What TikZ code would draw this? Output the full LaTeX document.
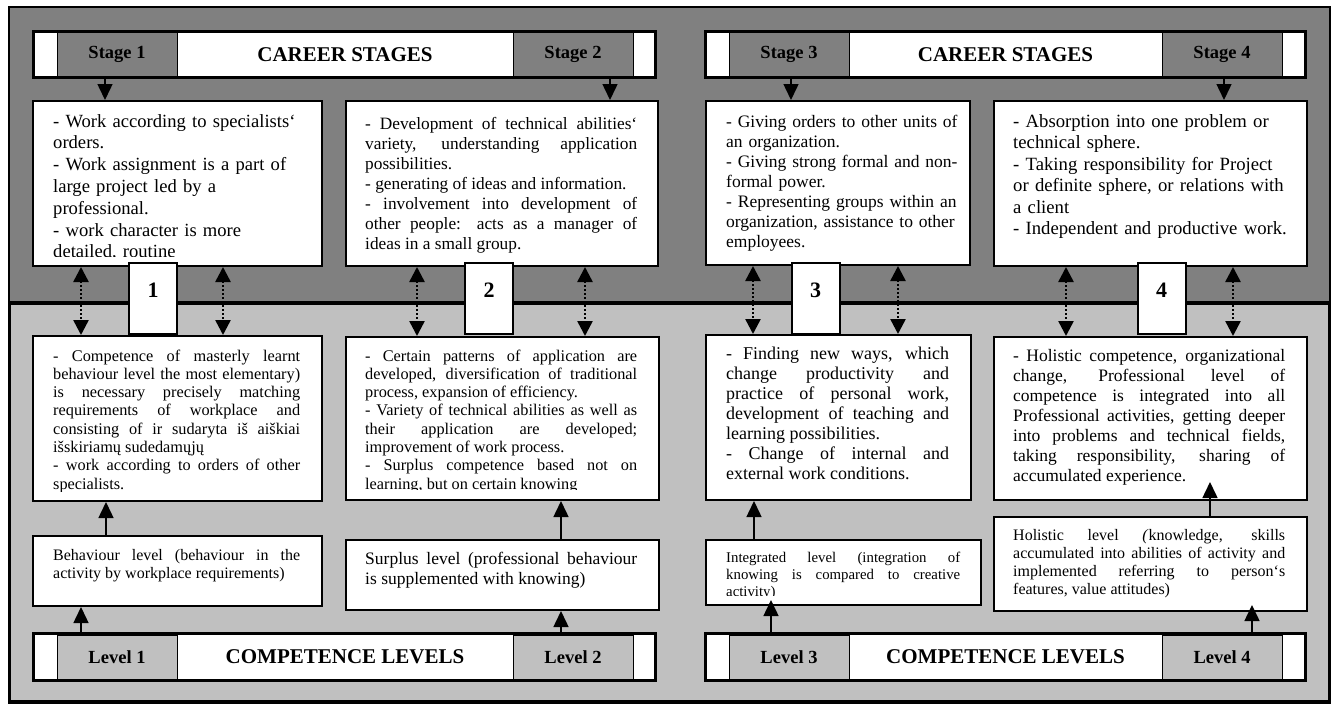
\documentclass[tikz,border=0pt]{standalone}
\usepackage{fontspec}
\setmainfont{Liberation Serif}
\usetikzlibrary{arrows.meta}
\definecolor{darkbg}{RGB}{128,128,128}
\definecolor{lightbg}{RGB}{192,192,192}
\hyphenpenalty=10000

\begin{document}
\begin{tikzpicture}[x=1pt,y=-1pt,
  txtbox/.style={draw, fill=white, line width=2pt, anchor=north west, inner sep=0},
  txt/.style={anchor=base west, inner sep=0, align=justify},
  cell/.style={draw, line width=1pt, minimum width=120pt, minimum height=44pt, inner sep=0, font=\fontsize{18.5}{20}\selectfont\bfseries},
  bar/.style={draw, line width=3pt, fill=white, minimum width=#1, minimum height=46.5pt, inner sep=0},
  bartitle/.style={font=\fontsize{21}{24}\selectfont\bfseries},
  numbox/.style={draw, fill=white, line width=2pt, minimum width=48pt, text height=34pt, text depth=37pt, inner sep=0, font=\fontsize{22}{24}\selectfont\bfseries},
  arr/.style={-{Triangle[width=15pt,length=16pt]}, line width=1.5pt},
  dotarr/.style={{Triangle[width=15pt,length=15pt]}-{Triangle[width=15pt,length=15pt]}, line width=2.5pt, dash pattern=on 2pt off 2pt}]
\path[use as bounding box] (0,0) rectangle (1336,704);
% two backgrounds
\draw[fill=darkbg, line width=2pt] (9,7) rectangle (1329.5,303);
\draw[fill=lightbg, line width=3.5pt] (9.5,303) rectangle (1329.5,702);

% career stages bars
\node[bar=622pt] (hL) at (344.5,54.25) {};
\node[cell, fill=darkbg] (s1) at (117,54.25) {Stage 1};
\node[cell, fill=darkbg] (s2) at (573,54.25) {Stage 2};
\node[bartitle] (tL) at (345,54.25) {CAREER STAGES};
\node[bar=600pt] (hR) at (1005.5,54.25) {};
\node[cell, fill=darkbg] (s3) at (789,54.25) {Stage 3};
\node[cell, fill=darkbg] (s4) at (1222,54.25) {Stage 4};
\node[bartitle] (tR) at (1005.5,54.25) {CAREER STAGES};

% competence levels bars
\node[bar=622pt] (lbL) at (344.5,657) {};
\node[cell, fill=lightbg] (l1) at (117,657) {Level 1};
\node[cell, fill=lightbg] (l2) at (573,657) {Level 2};
\node[bartitle] (ctL) at (345,657) {COMPETENCE LEVELS};
\node[bar=600pt] (lbR) at (1005.5,657) {};
\node[cell, fill=lightbg] (l3) at (789,657) {Level 3};
\node[cell, fill=lightbg] (l4) at (1222,657) {Level 4};
\node[bartitle] (ctR) at (1005.5,657) {COMPETENCE LEVELS};

% stage boxes
\node[txtbox, minimum width=289pt, minimum height=165pt] (b1) at (32,100) {};
\begin{scope}
\clip ([yshift=11pt]b1.south west) rectangle (b1.north east);
\node[txt, text width=260pt, align=left, font=\fontsize{18.6}{21.8}\selectfont] (t1) at ([xshift=21pt,yshift=-27pt]b1.north west)
  {- Work according to specialists‘\\ orders.\\ - Work assignment is a part of\\ large project led by a\\ professional.\\ - work character is more\\ detailed, routine};
\end{scope}
\node[txtbox, minimum width=312pt, minimum height=165pt] (b2) at (345,100) {};
\node[txt, text width=272pt, font=\fontsize{17.3}{20}\selectfont] (t2) at ([xshift=20pt,yshift=-29pt]b2.north west)
  {- Development of technical abilities‘\linebreak variety, understanding application\linebreak possibilities.\\ - generating of ideas and information.\\ - involvement into development of\linebreak other people: acts as a manager of\linebreak ideas in a small group.};
\node[txtbox, minimum width=264pt, minimum height=164pt] (b3) at (705,100) {};
\node[txt, text width=235pt, align=left, font=\fontsize{17.5}{20}\selectfont] (t3) at ([xshift=21pt,yshift=-27pt]b3.north west)
  {- Giving orders to other units of\\ an organization.\\ - Giving strong formal and non-\\ formal power.\\ - Representing groups within an\\ organization, assistance to other\\ employees.};
\node[txtbox, minimum width=313pt, minimum height=165pt] (b4) at (993,100) {};
\node[txt, text width=285pt, align=left, font=\fontsize{18.7}{21.5}\selectfont] (t4) at ([xshift=20pt,yshift=-27pt]b4.north west)
  {- Absorption into one problem or\\ technical sphere.\\ - Taking responsibility for Project\\ or definite sphere, or relations with\\ a client\\ - Independent and productive work.};

% competence boxes
\node[txtbox, minimum width=289pt, minimum height=165pt] (b5) at (32,335) {};
\begin{scope}
\clip ([yshift=11pt]b5.south west) rectangle (b5.north east);
\node[txt, text width=247pt, font=\fontsize{16.3}{18.3}\selectfont] (t5) at ([xshift=21pt,yshift=-26pt]b5.north west)
  {- Competence of masterly learnt\linebreak behaviour level the most elementary)\linebreak is necessary precisely matching\linebreak requirements of workplace and\linebreak consisting of ir sudaryta iš aiškiai\linebreak išskiriamų sudedamųjų\\ - work according to orders of other\linebreak specialists.};
\end{scope}
\node[txtbox, minimum width=313pt, minimum height=163pt] (b6) at (345,336) {};
\begin{scope}
\clip ([yshift=12pt]b6.south west) rectangle (b6.north east);
\node[txt, text width=272pt, font=\fontsize{16.3}{18.3}\selectfont] (t6) at ([xshift=20pt,yshift=-25pt]b6.north west)
  {- Certain patterns of application are\linebreak developed, diversification of traditional\linebreak process, expansion of efficiency.\\ - Variety of technical abilities as well as\linebreak their application are developed;\linebreak improvement of work process.\\ - Surplus competence based not on\linebreak learning, but on certain knowing};
\end{scope}
\node[txtbox, minimum width=265pt, minimum height=165pt] (b7) at (705,334) {};
\node[txt, text width=223pt, font=\fontsize{18}{20}\selectfont] (t7) at ([xshift=21pt,yshift=-25pt]b7.north west)
  {- Finding new ways, which\linebreak change productivity and\linebreak practice of personal work,\linebreak development of teaching and\linebreak learning possibilities.\\ - Change of internal and\linebreak external work conditions.};
\node[txtbox, minimum width=313pt, minimum height=163pt] (b8) at (993,336) {};
\node[txt, text width=272pt, font=\fontsize{17.5}{20}\selectfont] (t8) at ([xshift=20pt,yshift=-25pt]b8.north west)
  {- Holistic competence, organizational\linebreak change, Professional level of\linebreak competence is integrated into all\linebreak Professional activities, getting deeper\linebreak into problems and technical fields,\linebreak taking responsibility, sharing of\linebreak accumulated experience.};

% level boxes
\node[txtbox, minimum width=289pt, minimum height=70pt] (b9) at (32,535) {};
\node[txt, text width=247pt, font=\fontsize{16}{18.3}\selectfont] (t9) at ([xshift=21pt,yshift=-25pt]b9.north west)
  {Behaviour level (behaviour in the\linebreak activity by workplace requirements)};
\node[txtbox, minimum width=313pt, minimum height=70pt] (b10) at (345,539) {};
\node[txt, text width=272pt, font=\fontsize{17.5}{20}\selectfont] (t10) at ([xshift=20pt,yshift=-25pt]b10.north west)
  {Surplus level (professional behaviour\linebreak is supplemented with knowing)};
\node[txtbox, minimum width=275pt, minimum height=65pt] (b11) at (705,539) {};
\begin{scope}
\clip ([yshift=11pt]b11.south west) rectangle (b11.north east);
\node[txt, text width=234pt, font=\fontsize{14.8}{17}\selectfont] (t11) at ([xshift=21pt,yshift=-23pt]b11.north west)
  {Integrated level (integration of\linebreak knowing is compared to creative\linebreak activity)};
\end{scope}
\node[txtbox, minimum width=313pt, minimum height=94pt] (b12) at (993,516) {};
\node[txt, text width=272pt, font=\fontsize{16}{18.3}\selectfont] (t12) at ([xshift=20pt,yshift=-24pt]b12.north west)
  {Holistic level \textit{(}knowledge, skills\linebreak accumulated into abilities of activity and\linebreak implemented referring to person‘s\linebreak features, value attitudes)};

% stage numbers
\node[numbox] (n1) at (153,298.5) {1};
\node[numbox] (n2) at (489,298.5) {2};
\node[numbox] (n3) at (815.5,298.5) {3};
\node[numbox] (n4) at (1161.5,298.5) {4};

% arrows
\draw[arr] (s1.south -| 105,0) -- (b1.north -| 105,0);
\draw[arr] (s2.south -| 610,0) -- (b2.north -| 610,0);
\draw[arr] (s3.south -| 791,0) -- (b3.north -| 791,0);
\draw[arr] (s4.south -| 1224,0) -- (b4.north -| 1224,0);
\draw[dotarr] (b1.south -| 81,0) -- (b5.north -| 81,0);
\draw[dotarr] (b1.south -| 223,0) -- (b5.north -| 223,0);
\draw[dotarr] (b2.south -| 417,0) -- (b6.north -| 417,0);
\draw[dotarr] (b2.south -| 585,0) -- (b6.north -| 585,0);
\draw[dotarr] (b3.south -| 753,0) -- (b7.north -| 753,0);
\draw[dotarr] (b3.south -| 898,0) -- (b7.north -| 898,0);
\draw[dotarr] (b4.south -| 1066,0) -- (b8.north -| 1066,0);
\draw[dotarr] (b4.south -| 1233,0) -- (b8.north -| 1233,0);
\draw[arr] (b9.north -| 106,0) -- (b5.south -| 106,0);
\draw[arr] (b10.north -| 561,0) -- (b6.south -| 561,0);
\draw[arr] (b11.north -| 754,0) -- (b7.south -| 754,0);
\draw[arr, shorten >=-19pt] (b12.north -| 1210,0) -- (b8.south -| 1210,0);
\draw[arr] (l1.north -| 81,0) -- (b9.south -| 81,0);
\draw[arr] (l2.north -| 561,0) -- (b10.south -| 561,0);
\draw[arr, shorten >=-6pt] (l3.north -| 771,0) -- (b11.south -| 771,0);
\draw[arr, shorten >=-7pt] (l4.north -| 1252,0) -- (b12.south -| 1252,0);
\end{tikzpicture}
\end{document}
